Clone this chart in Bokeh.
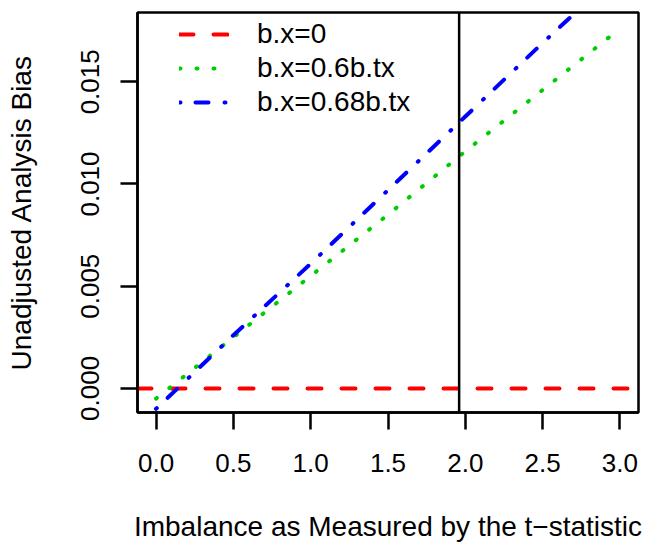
from bokeh.plotting import figure
from bokeh.models import Range1d, FixedTicker, Span, Legend, LegendItem
from bokeh.embed import file_html
from bokeh.resources import INLINE

# ---- data ----
t_stat = [0.0, 0.5, 1.0, 1.5, 2.0, 2.5, 3.0]
bias_06 = [-0.0005, 0.0025, 0.0055, 0.0085, 0.0116, 0.0146, 0.0176]
bias_068 = [-0.0010, 0.0026, 0.0061, 0.0097, 0.0133, 0.0169, 0.0204]
bias_zero = [0.0]
t_cutoff = 1.96

x_ticks = [0.0, 0.5, 1.0, 1.5, 2.0, 2.5, 3.0]
x_tick_labels = ["0.0", "0.5", "1.0", "1.5", "2.0", "2.5", "3.0"]
y_ticks = [0.0, 0.005, 0.010, 0.015]
y_tick_labels = ["0.000", "0.005", "0.010", "0.015"]

series_labels = ["b.x=0", "b.x=0.6b.tx", "b.x=0.68b.tx"]

FONT = "Liberation Sans"
FS_TICK = "26px"
FS_TITLE = "28px"

p = figure(width=645, height=544, output_backend="svg", toolbar_location=None,
           x_range=Range1d(-0.12, 3.12), y_range=Range1d(-0.00118, 0.01839),
           min_border_left=137, min_border_right=7, min_border_top=12, min_border_bottom=10)
p.grid.visible = False
p.background_fill_color = "white"
p.border_fill_color = "white"
p.outline_line_color = "black"
p.outline_line_width = 2.5

r_red = p.hspan(y=bias_zero, line_color="#FF0000", line_width=4, line_dash="14 20", line_cap="round")
r_green = p.line(t_stat, bias_06, line_color="#00CD00", line_width=4, line_dash="1 16", line_cap="round")
r_blue = p.line(t_stat, bias_068, line_color="#0000FF", line_width=4, line_dash="1 15 13 16", line_cap="round")

p.add_layout(Span(location=t_cutoff, dimension="height", line_color="black", line_width=2.5))

legend = Legend(items=[LegendItem(label=series_labels[0], renderers=[r_red]),
                       LegendItem(label=series_labels[1], renderers=[r_green]),
                       LegendItem(label=series_labels[2], renderers=[r_blue])],
                location=(42, 293), border_line_color=None, background_fill_alpha=0,
                padding=0, margin=0, spacing=0, glyph_width=50, glyph_height=34,
                label_height=34, label_standoff=28,
                label_text_font=FONT, label_text_font_size=FS_TITLE,
                label_text_color="black")
p.add_layout(legend, "center")

for ax in (p.xaxis[0], p.yaxis[0]):
    ax.axis_line_color = "black"
    ax.axis_line_width = 2.5
    ax.major_tick_line_width = 2.5
    ax.major_tick_in = 0
    ax.major_tick_out = 17
    ax.minor_tick_line_color = None
    ax.major_label_text_font = FONT
    ax.major_label_text_font_size = FS_TICK
    ax.major_label_text_color = "black"
    ax.axis_label_text_font = FONT
    ax.axis_label_text_font_size = FS_TITLE
    ax.axis_label_text_font_style = "normal"
    ax.axis_label_text_color = "black"

p.xaxis.ticker = FixedTicker(ticks=x_ticks)
p.xaxis.major_label_overrides = dict(zip(x_ticks, x_tick_labels))
p.yaxis.ticker = FixedTicker(ticks=y_ticks)
p.yaxis.major_label_overrides = dict(zip(y_ticks, y_tick_labels))
p.yaxis.major_label_orientation = "parallel"

p.xaxis.axis_label = "Imbalance as Measured by the t\u2212statistic"
p.yaxis.axis_label = "Unadjusted Analysis Bias"
p.xaxis.major_label_standoff = 24
p.xaxis.axis_label_standoff = 36
p.yaxis.major_label_standoff = 21
p.yaxis.axis_label_standoff = 42

open("out.html", "w").write(file_html(p, INLINE))
